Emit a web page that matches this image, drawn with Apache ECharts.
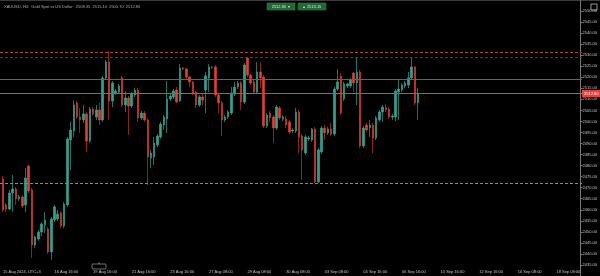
<!DOCTYPE html>
<html><head><meta charset="utf-8">
<script src="https://cdn.jsdelivr.net/npm/echarts@6/dist/echarts.min.js"></script>
<style>html,body{margin:0;padding:0;background:#000;}#c{width:600px;height:276px;}</style>
</head><body><div id="c"></div>
<script>
// ---- data (H4 candles) ----
const opens = [
2473.9,2462.2,2460.3,2467.6,2469.4,2464.9,2465.8,2462.2,2479.8,2469.0,
2444.0,2446.8,2449.9,2453.1,2451.3,2440.9,2455.4,2455.8,2458.5,2452.6,
2462.2,2491.6,2495.7,2508.4,2502.0,2500.7,2503.4,2491.1,2505.6,2502.0,
2505.2,2500.7,2519.7,2526.9,2509.3,2512.9,2513.3,2519.7,2507.5,2510.6,
2507.0,2512.0,2514.2,2501.6,2503.8,2500.7,2483.4,2483.9,2489.3,2493.0,
2498.4,2501.1,2510.2,2511.1,2514.2,2509.3,2524.2,2523.8,2520.1,2517.9,
2513.3,2507.5,2511.1,2514.2,2519.7,2524.7,2524.7,2512.0,2508.4,2500.7,
2502.0,2503.8,2512.4,2515.6,2517.4,2508.8,2528.7,2521.0,2517.9,2513.3,
2522.4,2520.1,2497.9,2503.8,2502.0,2497.0,2506.1,2501.1,2501.1,2499.8,
2495.7,2495.7,2504.3,2493.4,2485.7,2492.1,2491.6,2496.6,2472.6,2486.2,
2497.0,2494.8,2496.6,2494.3,2514.7,2520.6,2510.2,2516.1,2516.1,2521.9,
2517.4,2522.4,2488.9,2498.4,2497.0,2498.4,2492.5,2500.7,2504.3,2506.1,
2505.6,2502.0,2502.0,2513.3,2514.2,2516.1,2516.5,2519.7,2524.7,2508.4];
const closes = [
2459.9,2460.3,2467.6,2469.4,2464.9,2465.8,2461.7,2474.4,2468.5,2444.0,
2447.7,2449.9,2453.6,2455.4,2440.9,2455.8,2461.3,2458.1,2452.6,2462.6,
2492.1,2496.1,2507.5,2502.0,2500.7,2503.4,2491.1,2505.6,2503.4,2505.2,
2500.7,2519.7,2526.9,2509.3,2517.4,2513.8,2516.1,2507.5,2510.6,2507.0,
2512.4,2514.2,2501.6,2503.8,2500.7,2483.9,2485.7,2490.2,2493.4,2498.8,
2502.0,2510.2,2511.5,2513.8,2508.8,2524.2,2523.8,2520.1,2517.9,2512.9,
2507.5,2511.1,2509.7,2520.6,2524.7,2524.5,2512.0,2508.4,2500.7,2502.0,
2504.3,2512.9,2515.6,2517.4,2508.8,2525.6,2521.0,2517.4,2513.3,2522.4,
2519.7,2497.9,2502.9,2501.6,2497.0,2506.5,2501.6,2502.0,2498.4,2495.2,
2496.1,2504.3,2493.0,2487.1,2493.0,2492.5,2496.6,2472.6,2487.1,2497.0,
2494.8,2496.6,2494.3,2514.7,2517.9,2503.8,2517.0,2517.0,2518.8,2517.4,
2522.4,2488.9,2497.0,2496.1,2498.4,2492.5,2501.6,2504.3,2506.5,2505.2,
2502.0,2502.5,2513.8,2514.7,2516.5,2517.4,2519.7,2524.7,2508.4,2512.8];
const lows = [
2459.0,2459.0,2459.9,2459.0,2462.2,2464.0,2460.8,2459.0,2467.6,2438.2,
2442.7,2445.9,2448.1,2449.5,2440.0,2437.3,2454.5,2454.9,2451.7,2451.7,
2461.3,2478.0,2493.0,2501.1,2494.8,2499.3,2486.2,2490.2,2502.5,2500.7,
2498.4,2499.8,2518.8,2500.7,2506.5,2512.0,2512.4,2506.5,2504.3,2493.9,
2506.1,2511.1,2499.8,2500.7,2499.8,2471.2,2478.9,2480.3,2488.4,2492.1,
2496.1,2494.8,2509.3,2510.2,2508.4,2508.8,2523.3,2519.2,2515.6,2512.0,
2506.1,2506.5,2507.5,2503.8,2513.3,2523.8,2511.1,2503.8,2493.4,2499.8,
2501.1,2502.9,2511.5,2514.7,2505.2,2507.9,2520.1,2516.5,2512.4,2512.4,
2515.1,2497.0,2497.0,2499.8,2490.2,2496.1,2500.7,2500.2,2497.0,2494.3,
2494.8,2494.8,2485.7,2473.5,2484.8,2491.1,2490.7,2472.1,2472.1,2485.3,
2491.6,2493.9,2493.4,2493.4,2513.8,2502.9,2509.3,2515.1,2515.1,2513.3,
2507.5,2488.0,2488.0,2495.2,2493.0,2485.7,2491.6,2499.8,2499.8,2504.3,
2501.1,2500.7,2500.2,2500.7,2513.3,2515.1,2515.1,2518.8,2507.5,2500.7];
const highs = [
2475.3,2463.1,2469.0,2475.7,2470.3,2466.7,2466.7,2478.9,2480.3,2469.9,
2448.1,2450.8,2454.5,2459.0,2452.2,2456.7,2462.2,2459.9,2459.4,2463.5,
2493.0,2499.8,2509.7,2509.3,2506.1,2507.5,2504.3,2506.5,2506.5,2507.5,
2508.4,2520.6,2527.8,2531.9,2518.3,2514.7,2517.0,2520.6,2513.8,2511.5,
2513.3,2515.1,2515.1,2504.7,2504.7,2501.6,2487.1,2493.0,2494.3,2499.8,
2502.9,2518.3,2512.4,2514.7,2515.6,2526.0,2524.7,2524.2,2520.6,2518.3,
2513.8,2512.0,2512.9,2522.4,2526.0,2525.1,2525.6,2512.9,2509.3,2502.9,
2505.2,2515.6,2517.9,2518.3,2518.3,2526.5,2529.2,2521.5,2518.8,2526.9,
2526.9,2521.0,2503.8,2504.7,2502.9,2507.5,2507.0,2502.9,2502.5,2500.7,
2497.0,2506.1,2505.2,2494.3,2493.9,2493.4,2497.0,2497.5,2488.0,2497.9,
2498.4,2497.5,2499.3,2515.6,2523.8,2521.9,2517.9,2517.4,2519.7,2522.4,
2529.2,2523.3,2497.9,2499.3,2500.7,2499.3,2502.5,2505.2,2507.5,2507.9,
2506.5,2503.4,2514.7,2518.8,2517.4,2518.3,2522.4,2529.2,2525.1,2515.1];

const xTickIndex  = [0,16,28,40,52,64,76,88,100,112,124,136,148,160,172];
const xTickLabels = ["15 Aug 2024, UTC+3","16 Aug 16:00","19 Aug 16:00","21 Aug 16:00","23 Aug 16:00",
  "27 Aug 08:00","29 Aug 08:00","30 Aug 08:00","03 Sep 08:00","04 Sep 16:00","06 Sep 16:00",
  "10 Sep 16:00","12 Sep 16:00","16 Sep 08:00","18 Sep 08:00"];
const slotCount = 180;          // candle slots incl. empty future space
const yMin = 2430, yMax = 2555, yStep = 5;

const levelValues = [2531.6, 2529.05, 2519.1, 2472.25];
const levelColors = ['#b0463a', '#5a3c36', '#2a8a3a', '#b07a5c'];
const levelDashed = [true, true, false, true];
const lastPrice = 2512.8;
const bidText = "2512.80";
const askText = "2513.15";
const headerText = "XAUUSD, H4:  Gold Spot vs US Dollar   2508.35  2515.10  2500.70  2512.80";

// ---- build ----
const cats = Array.from({length: slotCount}, (_, i) => String(i));
const ohlc = opens.map((o, i) => [o, closes[i], lows[i], highs[i]]);
const labelAt = {};
xTickIndex.forEach((k, j) => { labelAt[k] = xTickLabels[j]; });

const UP = '#35a08f', DOWN = '#e5402f', PRICE_RED = '#e8403a';
const FONT = 'Liberation Sans';
const PLOT_RIGHT = 582;

const chart = echarts.init(document.getElementById('c'), null, {renderer: 'canvas'});
const baseGraphics = [
  {type: 'rect', shape: {x: 0, y: 0, width: 600, height: 1}, style: {fill: '#3c3c3c'}, silent: true},
  {type: 'text', x: 4, y: 5, style: {text: headerText, fill: '#a8a8a8', fontSize: 4, fontFamily: FONT}, silent: true},
  {type: 'rect', shape: {x: 267, y: 3, width: 28, height: 7}, style: {fill: '#1d6a34', stroke: '#3a8f50', lineWidth: 0.5}},
  {type: 'text', x: 281, y: 4.5, style: {text: bidText + '  ▾', fill: '#d8e8d8', fontSize: 4, fontFamily: FONT, align: 'center'}},
  {type: 'rect', shape: {x: 298, y: 3, width: 28, height: 7}, style: {fill: '#1d6a34', stroke: '#3a8f50', lineWidth: 0.5}},
  {type: 'text', x: 312, y: 4.5, style: {text: '▴  ' + askText, fill: '#d8e8d8', fontSize: 4, fontFamily: FONT, align: 'center'}},
  {type: 'rect', shape: {x: 591, y: 4, width: 6, height: 6}, style: {fill: 'none', stroke: '#bbb', lineWidth: 0.8}},
  {type: 'rect', shape: {x: 92, y: 264, width: 14, height: 5, r: 1}, style: {fill: 'none', stroke: '#bbb', lineWidth: 0.6}},
  {type: 'line', shape: {x1: 99, y1: 262, x2: 99, y2: 264}, style: {stroke: '#bbb', lineWidth: 0.6}}
];

chart.setOption({
  backgroundColor: '#000',
  animation: false,
  grid: {left: 0, right: 600 - PLOT_RIGHT, top: 0, bottom: 0},
  xAxis: {
    type: 'category', data: cats, boundaryGap: true,
    axisLine: {show: false}, axisTick: {show: false}, splitLine: {show: false},
    axisLabel: {
      inside: true, margin: 2, fontSize: 4, color: '#c4c4c4', align: 'left', fontFamily: FONT,
      interval: (i) => labelAt[i] !== undefined,
      formatter: (v, i) => labelAt[i] || ''
    }
  },
  yAxis: {
    type: 'value', position: 'right', min: yMin, max: yMax, interval: yStep,
    splitLine: {show: false},
    axisLine: {show: true, lineStyle: {color: '#777', width: 1}},
    axisTick: {show: true, length: 2, lineStyle: {color: '#777'}},
    axisLabel: {color: '#c4c4c4', fontSize: 4, margin: 2, fontFamily: FONT,
      showMinLabel: false, showMaxLabel: false, formatter: v => v.toFixed(2)}
  },
  series: [{
    type: 'candlestick', data: ohlc, barWidth: 2,
    itemStyle: {color: UP, color0: DOWN, borderColor: 'rgba(53,160,143,0.7)', borderColor0: 'rgba(229,64,47,0.6)',
      borderColorDoji: '#888', borderWidth: 1}
  }],
  graphic: baseGraphics
});

// horizontal levels placed through the chart's own y scale
function hLine(value, color, dashed, z) {
  const y = Math.round(chart.convertToPixel({yAxisIndex: 0}, value));
  if (dashed) {
    return {type: 'line', z: z, silent: true, shape: {x1: 0, y1: y + 0.5, x2: PLOT_RIGHT, y2: y + 0.5},
      style: {stroke: color, lineWidth: 1, lineDash: [3, 2]}};
  }
  return {type: 'rect', z: z, silent: true, shape: {x: 0, y: y, width: PLOT_RIGHT, height: 1},
    style: {fill: color}};
}
const levelGraphics = levelValues.map((v, k) => hLine(v, levelColors[k], levelDashed[k], 50));
const py = Math.round(chart.convertToPixel({yAxisIndex: 0}, lastPrice));
levelGraphics.push(
  hLine(lastPrice, PRICE_RED, false, 51),
  {type: 'rect', z: 52, silent: true, shape: {x: PLOT_RIGHT, y: py - 3, width: 600 - PLOT_RIGHT, height: 7},
    style: {fill: PRICE_RED}},
  {type: 'text', z: 53, silent: true, x: PLOT_RIGHT + 2, y: py - 1.5,
    style: {text: lastPrice.toFixed(2), fill: '#fff', fontSize: 4, fontFamily: FONT}}
);
chart.setOption({graphic: baseGraphics.concat(levelGraphics)});
</script></body></html>
